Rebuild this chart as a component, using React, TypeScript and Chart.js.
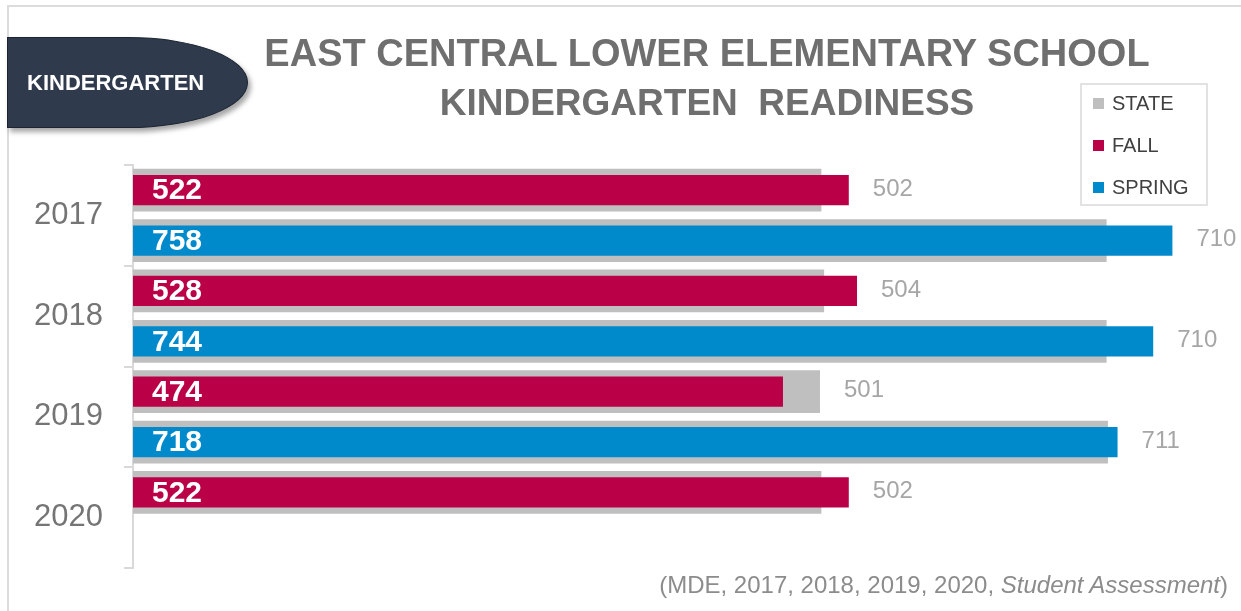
import React, { useEffect, useRef } from 'react';
import { Chart, registerables } from 'chart.js';

Chart.register(...registerables);

// ---- Data ----
const years = ['2017', '2018', '2019', '2020'];
const fallScores: (number | null)[] = [522, 528, 474, 522];
const springScores: (number | null)[] = [758, 744, 718, null];
const stateFallScores: (number | null)[] = [502, 504, 501, 502];
const stateSpringScores: (number | null)[] = [710, 710, 711, null];
const xMax = 800;

const titleLines = ['EAST CENTRAL LOWER ELEMENTARY SCHOOL', 'KINDERGARTEN  READINESS'];
const badgeText = 'KINDERGARTEN';
const legendItems = [
  { label: 'STATE', color: '#BFBFBF' },
  { label: 'FALL', color: '#BA0047' },
  { label: 'SPRING', color: '#008ACC' },
];

// ---- Rows built from the data (one row per season within each year) ----
const rowLabels: string[] = [];
const fallRow: (number | null)[] = [];
const springRow: (number | null)[] = [];
const stateRow: (number | null)[] = [];
years.forEach((y, i) => {
  rowLabels.push(y + ' Fall');
  fallRow.push(fallScores[i]);
  springRow.push(null);
  stateRow.push(stateFallScores[i]);
  rowLabels.push(y + ' Spring');
  fallRow.push(null);
  springRow.push(springScores[i]);
  stateRow.push(stateSpringScores[i]);
});

const FONT = '"Liberation Sans", Arial, sans-serif';

const labelPlugin = {
  id: 'valueLabels',
  afterDatasetsDraw(chart: any) {
    const ctx = chart.ctx;
    const xs = chart.scales.x;
    const metaFall = chart.getDatasetMeta(1);
    const metaSpring = chart.getDatasetMeta(2);
    const metaState = chart.getDatasetMeta(0);
    ctx.save();
    ctx.textBaseline = 'middle';
    ctx.textAlign = 'left';
    rowLabels.forEach((_, i) => {
      let v: number | null = null;
      let el: any = null;
      if (fallRow[i] != null) {
        v = fallRow[i];
        el = metaFall.data[i];
      } else if (springRow[i] != null) {
        v = springRow[i];
        el = metaSpring.data[i];
      }
      if (el && v != null) {
        ctx.font = `bold 30px ${FONT}`;
        ctx.fillStyle = '#FFFFFF';
        ctx.fillText(String(v), xs.getPixelForValue(0) + 19, el.y + 1);
      }
      const sv = stateRow[i];
      const sEl = metaState.data[i];
      if (sv != null && sEl) {
        const end = Math.max(xs.getPixelForValue(sv), v != null ? xs.getPixelForValue(v) : 0);
        ctx.font = `24px ${FONT}`;
        ctx.fillStyle = '#A6A6A6';
        ctx.fillText(String(sv), end + 24, sEl.y - 1);
      }
    });
    ctx.restore();
  },
};

export default function App() {
  const canvasRef = useRef<HTMLCanvasElement | null>(null);

  useEffect(() => {
    if (!canvasRef.current) return;
    const chart = new Chart(canvasRef.current, {
      type: 'bar',
      data: {
        labels: rowLabels,
        datasets: [
          {
            label: 'STATE',
            data: stateRow,
            backgroundColor: '#BFBFBF',
            borderWidth: 0,
            grouped: false,
            barPercentage: 0.85,
            categoryPercentage: 1,
            order: 1,
          },
          {
            label: 'FALL',
            data: fallRow,
            backgroundColor: '#BA0047',
            grouped: false,
            barPercentage: 0.6,
            categoryPercentage: 1,
            order: 0,
          },
          {
            label: 'SPRING',
            data: springRow,
            backgroundColor: '#008ACC',
            grouped: false,
            barPercentage: 0.6,
            categoryPercentage: 1,
            order: 0,
          },
        ],
      },
      options: {
        indexAxis: 'y',
        animation: false,
        responsive: false,
        maintainAspectRatio: false,
        layout: { padding: { top: 165, bottom: 43, left: 0, right: 11 } },
        plugins: {
          legend: { display: false },
          tooltip: { enabled: false },
          title: { display: false },
        },
        scales: {
          x: { type: 'linear', min: 0, max: xMax, display: false },
          y: { type: 'category', display: false, offset: true },
          yYears: {
            type: 'category',
            labels: years,
            position: 'left',
            offset: true,
            grid: {
              offset: true,
              drawOnChartArea: false,
              drawTicks: true,
              tickLength: 9,
              color: '#D9D9D9',
              lineWidth: 2,
            },
            border: { display: true, color: '#D9D9D9', width: 2 },
            ticks: {
              color: '#757575',
              font: { size: 31, family: FONT },
              padding: 21,
            },
            afterFit: (s: any) => {
              s.width = 133;
            },
          },
        },
      } as any,
      plugins: [labelPlugin],
    });
    return () => chart.destroy();
  }, []);

  return (
    <div
      style={{
        position: 'fixed',
        left: 0,
        top: 0,
        width: 1241,
        height: 611,
        background: '#FFFFFF',
        overflow: 'hidden',
        fontFamily: FONT,
      }}
    >
      <div
        style={{
          position: 'absolute',
          left: 7,
          top: 5,
          width: 1300,
          height: 700,
          borderLeft: '2px solid #DCDCDC',
          borderTop: '2px solid #DCDCDC',
        }}
      />
      <canvas
        ref={canvasRef}
        width={1241}
        height={611}
        style={{ position: 'absolute', left: 0, top: 0, width: 1241, height: 611 }}
      />
      <div
        style={{
          position: 'absolute',
          left: 7,
          top: 37,
          width: 241,
          height: 91,
          boxSizing: 'border-box',
          background: '#2F3B4C',
          border: '1px solid #1B2430',
          borderRadius: '0 50% 50% 0 / 0 50% 50% 0',
          boxShadow: '3px 4px 5px rgba(0,0,0,0.35)',
          color: '#FFFFFF',
          fontWeight: 'bold',
          fontSize: 22,
          display: 'flex',
          alignItems: 'center',
          paddingLeft: 19,
        }}
      >
        {badgeText}
      </div>
      <div
        style={{
          position: 'absolute',
          left: 207,
          top: 28,
          width: 1000,
          textAlign: 'center',
          color: '#6F6F6F',
          fontWeight: 'bold',
          fontSize: 38,
          lineHeight: '50px',
          whiteSpace: 'pre',
        }}
      >
        <div>{titleLines[0]}</div>
        <div style={{ fontSize: 37 }}>{titleLines[1]}</div>
      </div>
      <div
        style={{
          position: 'absolute',
          left: 1080,
          top: 83,
          width: 128,
          height: 123,
          boxSizing: 'border-box',
          border: '2px solid #E2E2E2',
          background: '#FFFFFF',
        }}
      >
        {legendItems.map((it, i) => (
          <div
            key={it.label}
            style={{
              position: 'absolute',
              left: 11,
              top: i * 42 - 2,
              height: 40,
              display: 'flex',
              alignItems: 'center',
              color: '#404040',
              fontSize: 20,
            }}
          >
            <span
              style={{
                display: 'inline-block',
                width: 11,
                height: 11,
                background: it.color,
                marginRight: 8,
              }}
            />
            {it.label}
          </div>
        ))}
      </div>
      <div
        style={{
          position: 'absolute',
          right: 13,
          top: 570,
          fontSize: 24,
          lineHeight: '30px',
          color: '#8C8C8C',
          whiteSpace: 'nowrap',
        }}
      >
        (MDE, 2017, 2018, 2019, 2020, <i>Student Assessment</i>)
      </div>
    </div>
  );
}
